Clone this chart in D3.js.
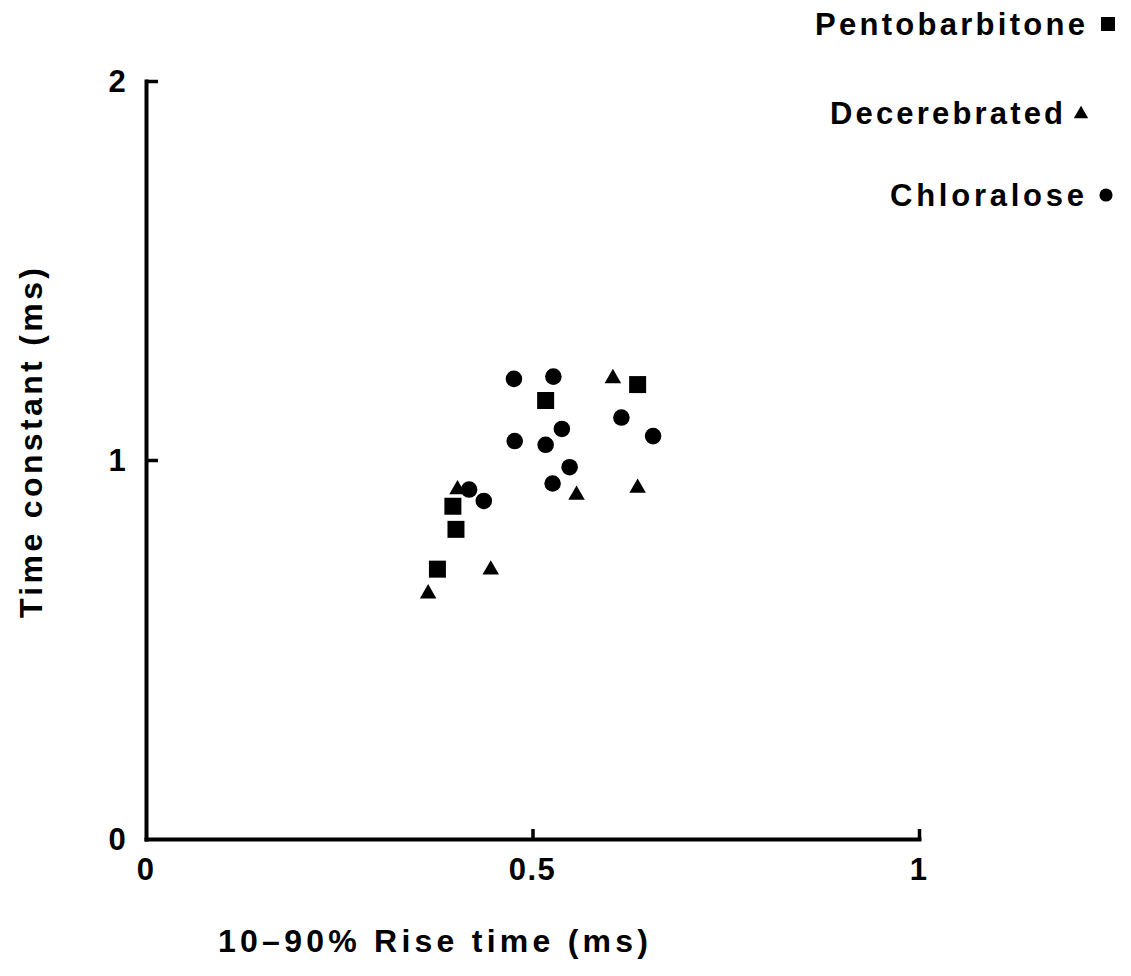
<!DOCTYPE html>
<html>
<head>
<meta charset="utf-8">
<script src="https://cdn.jsdelivr.net/npm/d3@7/dist/d3.min.js"></script>
<style>
  html, body { margin: 0; padding: 0; background: #fff; }
  svg { display: block; }
  text { font-family: "Liberation Sans", Arial, Helvetica, sans-serif; font-weight: bold; fill: #000; }
</style>
</head>
<body>
<svg id="chart" width="1131" height="976"></svg>
<script>
// Rise time (x, ms) and decay time constant (y, ms) for each preparation
const pentoX = [0.377, 0.397, 0.401, 0.517, 0.636];
const pentoY = [0.712, 0.878, 0.817, 1.157, 1.199];

const decerX = [0.365, 0.403, 0.446, 0.557, 0.604, 0.636];
const decerY = [0.650, 0.925, 0.713, 0.910, 1.218, 0.929];

const chloroX = [0.418, 0.437, 0.476, 0.477, 0.517, 0.526, 0.527, 0.538, 0.548, 0.615, 0.656];
const chloroY = [0.922, 0.892, 1.214, 1.050, 1.040, 0.938, 1.220, 1.082, 0.981, 1.112, 1.063];

const seriesNames = ["Pentobarbitone", "Decerebrated", "Chloralose"];

const xTicks = [0, 0.5, 1];
const xTickLabels = ["0", "0.5", "1"];
const yTicks = [0, 1, 2];
const yTickLabels = ["0", "1", "2"];

const xTitle = "10\u201390% Rise time (ms)";
const yTitle = "Time constant (ms)";

const svg = d3.select("#chart");

const x = d3.scaleLinear().domain([0, 1]).range([146, 919]);
const y = d3.scaleLinear().domain([0, 2]).range([839, 81]);

const symbolTypes = [d3.symbolSquare, d3.symbolTriangle, d3.symbolCircle];
const plotSizes = [289, 118, 215];
const legendSizes = [196, 90, 135];

// Axes: ticks point into the plot area
const xAxis = d3.axisBottom(x)
  .tickValues(xTicks.slice(1))
  .tickSize(-10)
  .tickSizeOuter(0)
  .tickFormat("");
const yAxis = d3.axisLeft(y)
  .tickValues(yTicks.slice(1))
  .tickSize(-12)
  .tickSizeOuter(0)
  .tickFormat("");

const gx = svg.append("g").attr("transform", `translate(0,${y(0)})`).call(xAxis);
const gy = svg.append("g").attr("transform", `translate(${x(0)},0)`).call(yAxis);
[gx, gy].forEach(g => {
  g.selectAll("path.domain").attr("stroke", "#000").attr("stroke-width", 4).attr("stroke-linecap", "square");
  g.selectAll(".tick line").attr("stroke", "#000").attr("stroke-width", 3.5);
});

// Tick labels
const tickFont = 31;
svg.append("g").selectAll("text").data(xTicks).join("text")
  .attr("x", d => x(d))
  .attr("y", y(0) + 41)
  .attr("text-anchor", "middle")
  .attr("font-size", tickFont)
  .attr("letter-spacing", 1.5)
  .text((d, i) => xTickLabels[i]);

svg.append("g").selectAll("text").data(yTicks).join("text")
  .attr("x", 117)
  .attr("y", d => y(d) + 11)
  .attr("text-anchor", "middle")
  .attr("font-size", tickFont)
  .text((d, i) => yTickLabels[i]);

// Axis titles
svg.append("text")
  .attr("x", 218)
  .attr("y", 952)
  .attr("font-size", 32)
  .attr("textLength", 430)
  .attr("lengthAdjust", "spacing")
  .text(xTitle);

svg.append("text")
  .attr("transform", "translate(42,618) rotate(-90)")
  .attr("font-size", 32)
  .attr("textLength", 350)
  .attr("lengthAdjust", "spacing")
  .text(yTitle);

// Data points
const series = [
  { xs: pentoX, ys: pentoY },
  { xs: decerX, ys: decerY },
  { xs: chloroX, ys: chloroY }
];
series.forEach((s, k) => {
  const sym = d3.symbol().type(symbolTypes[k]).size(plotSizes[k]);
  svg.append("g").selectAll("path").data(s.xs).join("path")
    .attr("d", sym)
    .attr("fill", "#000")
    .attr("transform", (d, i) => `translate(${x(d)},${y(s.ys[i]) + (k === 1 ? 1 : 0)})`);
});

// Legend (label followed by its symbol)
const legendRows = [
  { textStart: 815, width: 270, baseline: 35, symX: 1108, symY: 24 },
  { textStart: 830, width: 233, baseline: 124, symX: 1081, symY: 114 },
  { textStart: 890, width: 194, baseline: 206, symX: 1106, symY: 195 }
];
legendRows.forEach((r, k) => {
  svg.append("text")
    .attr("x", r.textStart)
    .attr("y", r.baseline)
    .attr("font-size", 31)
    .attr("textLength", r.width)
    .attr("lengthAdjust", "spacing")
    .text(seriesNames[k]);
  svg.append("path")
    .attr("d", d3.symbol().type(symbolTypes[k]).size(legendSizes[k]))
    .attr("fill", "#000")
    .attr("transform", `translate(${r.symX},${r.symY})`);
});
</script>
</body>
</html>
